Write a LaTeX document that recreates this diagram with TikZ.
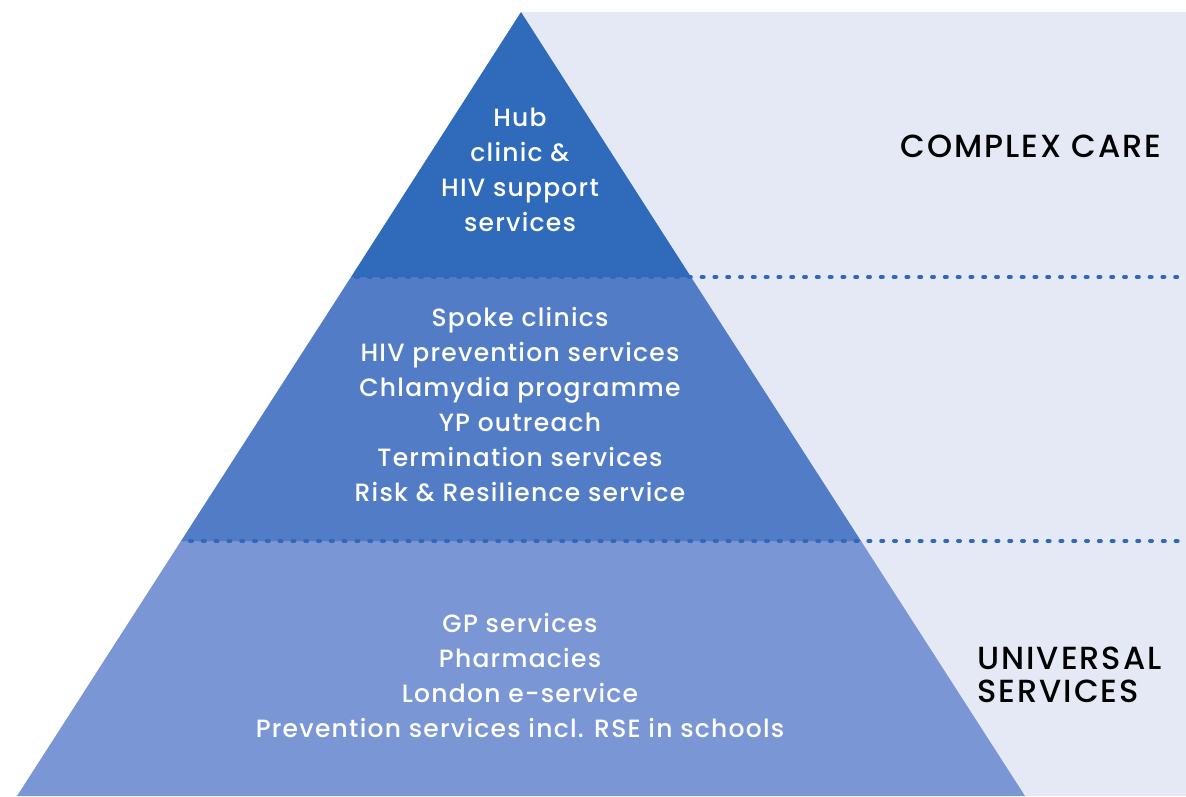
\documentclass[tikz,border=0pt]{standalone}
\usepackage{fontspec}
\setmainfont{Poppins Medium}
\newfontfamily\tierfont{Poppins Medium}[LetterSpace=5]
\newfontfamily\sidefont{Poppins Medium}[LetterSpace=6]
\definecolor{bgc}{RGB}{229,233,245}
\definecolor{topc}{RGB}{47,106,187}
\definecolor{midc}{RGB}{82,125,198}
\definecolor{botc}{RGB}{122,150,212}
\definecolor{dotc}{RGB}{48,104,187}
\begin{document}
\begin{tikzpicture}[x=1pt,y=-1pt,
  tiertext/.style={text=white,font=\tierfont\fontsize{25}{35}\selectfont,align=center,anchor=center},
  sidetext/.style={text=black,font=\sidefont\fontsize{32}{33}\selectfont},
  dotline/.style={draw=dotc,line width=4pt,line cap=round,dash pattern=on 2pt off 10.8pt}]
\useasboundingbox (0,0) rectangle (1186,796);
\fill[bgc] (521,12) rectangle (1186,796);
\fill[botc] (17,796) -- (181,541) -- (861,541) -- (1025,796) -- cycle;
\fill[midc] (181,541) -- (351,277) -- (691,277) -- (861,541) -- cycle;
\fill[topc] (351,277) -- (521,12) -- (691,277) -- cycle;
\coordinate (d1s) at (356,277);
\coordinate (d1e) at (1186,277);
\coordinate (d2s) at (190,541);
\coordinate (d2e) at (1186,541);
\draw[dotline] (d1s) -- (d1e);
\draw[dotline] (d2s) -- (d2e);
\node[tiertext] (t1) at (520,170) {Hub\\clinic \&\\HIV support\\services};
\node[tiertext] (t2) at (520,405) {Spoke clinics\\HIV prevention services\\Chlamydia programme\\YP outreach\\Termination services\\Risk \& Resilience service};
\node[tiertext] (t3) at (520,675) {GP services\\Pharmacies\\London e-service\\Prevention services incl. RSE in schools};
\node[sidetext,anchor=center] (cc) at (1031,146) {COMPLEX CARE};
\node[sidetext,align=left,anchor=west] (us) at (974,675) {UNIVERSAL\\SERVICES};
\end{tikzpicture}
\end{document}
